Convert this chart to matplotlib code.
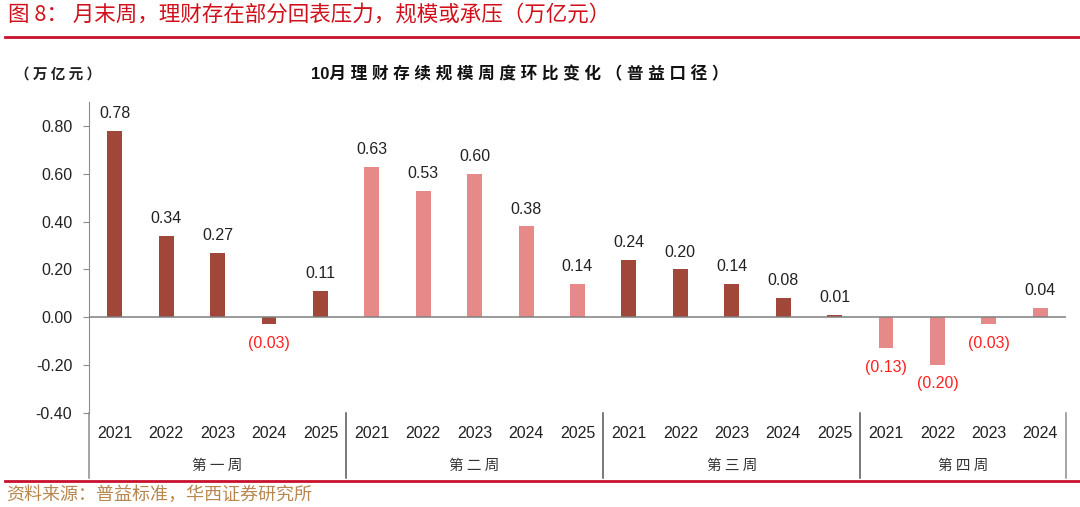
import numpy as np
import matplotlib
matplotlib.use('Agg')
import matplotlib.pyplot as plt

plt.rcParams['font.family'] = ['Liberation Sans', 'Noto Sans CJK SC', 'DejaVu Sans']

# data
weeks = ["第一周", "第二周", "第三周", "第四周"]
years_w1 = ["2021", "2022", "2023", "2024", "2025"]
years_w2 = ["2021", "2022", "2023", "2024", "2025"]
years_w3 = ["2021", "2022", "2023", "2024", "2025"]
years_w4 = ["2021", "2022", "2023", "2024"]
vals_w1 = [0.78, 0.34, 0.27, -0.03, 0.11]
vals_w2 = [0.63, 0.53, 0.60, 0.38, 0.14]
vals_w3 = [0.24, 0.20, 0.14, 0.08, 0.01]
vals_w4 = [-0.13, -0.20, -0.03, 0.04]
yticks = [-0.40, -0.20, 0.00, 0.20, 0.40, 0.60, 0.80]

dark = "#A0473A"
light = "#E68A89"
week_colors = [dark, light, dark, light]

groups = [(years_w1, vals_w1), (years_w2, vals_w2), (years_w3, vals_w3), (years_w4, vals_w4)]

W, H = 1080, 507
fig = plt.figure(figsize=(W / 100, H / 100), dpi=100)
ax = fig.add_axes([89 / W, (H - 413) / H, (1066 - 89) / W, (413 - 102) / H])

labels = []
values = []
colors = []
bounds = [-0.5]
for (yrs, vals), c in zip(groups, week_colors):
    labels += yrs
    values += vals
    colors += [c] * len(yrs)
    bounds.append(len(labels) - 0.5)

x = np.arange(len(values))
ax.bar(x, values, width=0.29, color=colors, zorder=2)
ax.set_xlim(-0.5, len(values) - 0.5)
ax.set_ylim(-0.4, 0.9)
ax.axhline(0, color="#7f7f7f", lw=1.1, zorder=3)

for xi, v in zip(x, values):
    if v >= 0:
        ax.annotate(f"{v:.2f}", (xi, v), xytext=(0, 7), textcoords="offset points",
                    ha="center", va="bottom", fontsize=11.5, color="#222222")
    else:
        ax.annotate(f"({abs(v):.2f})", (xi, v), xytext=(0, -8), textcoords="offset points",
                    ha="center", va="top", fontsize=11.5, color="#FF2020")

ax.set_yticks(yticks)
ax.set_yticklabels([f"{t:.2f}" for t in yticks], fontsize=11.5, color="#222222")
ax.tick_params(axis="y", length=4, color="#8c8c8c", pad=8)
ax.set_xticks([])
for s in ["top", "right", "bottom"]:
    ax.spines[s].set_visible(False)
ax.spines["left"].set_color("#8c8c8c")

# two-level category axis
trans = ax.get_xaxis_transform()
for xi, lab in zip(x, labels):
    ax.text(xi, -0.065, lab, transform=trans, ha="center", va="center", fontsize=11.5, color="#222222")
for i, wk in enumerate(weeks):
    mid = (bounds[i] + bounds[i + 1]) / 2
    ax.text(mid, -0.17, " ".join(wk), transform=trans, ha="center", va="center", fontsize=10.5,
            color="#333333", family=["Noto Sans CJK SC"])
for b in bounds:
    col = "#8c8c8c" if b in (bounds[0], bounds[-1]) else "#555555"
    ax.plot([b, b], [0, -0.21], transform=trans, color=col, lw=1.1, clip_on=False)

# titles and header/footer
fig.text(8 / W, 1 - 15 / H, "图 8： 月末周，理财存在部分回表压力，规模或承压（万亿元）",
         color="#D0101B", fontsize=15.5, ha="left", va="center", family=["Noto Sans CJK SC"])
fig.add_artist(plt.Line2D([5 / W, 1], [1 - 37 / H, 1 - 37 / H], color="#C8102E", lw=2))
fig.text(15 / W, 1 - 74 / H, "（ 万 亿 元 ）", fontsize=10.5, ha="left", va="center",
         color="#222222", family=["Noto Sans CJK SC"], weight="bold")
fig.text(520 / W, 1 - 74 / H, "10月 理 财 存 续 规 模 周 度 环 比 变 化 （ 普 益 口 径 ）", fontsize=12,
         ha="center", va="center", color="#111111", weight="bold",
         family=["Liberation Sans", "Noto Sans CJK SC"])
fig.add_artist(plt.Line2D([5 / W, 1], [1 - 481 / H, 1 - 481 / H], color="#C8102E", lw=2))
fig.text(6 / W, 1 - 495 / H, "资料来源：普益标准，华西证券研究所", fontsize=13,
         ha="left", va="center", color="#B8874F", family=["Noto Sans CJK SC"])

fig.savefig("out.png", dpi=100)
